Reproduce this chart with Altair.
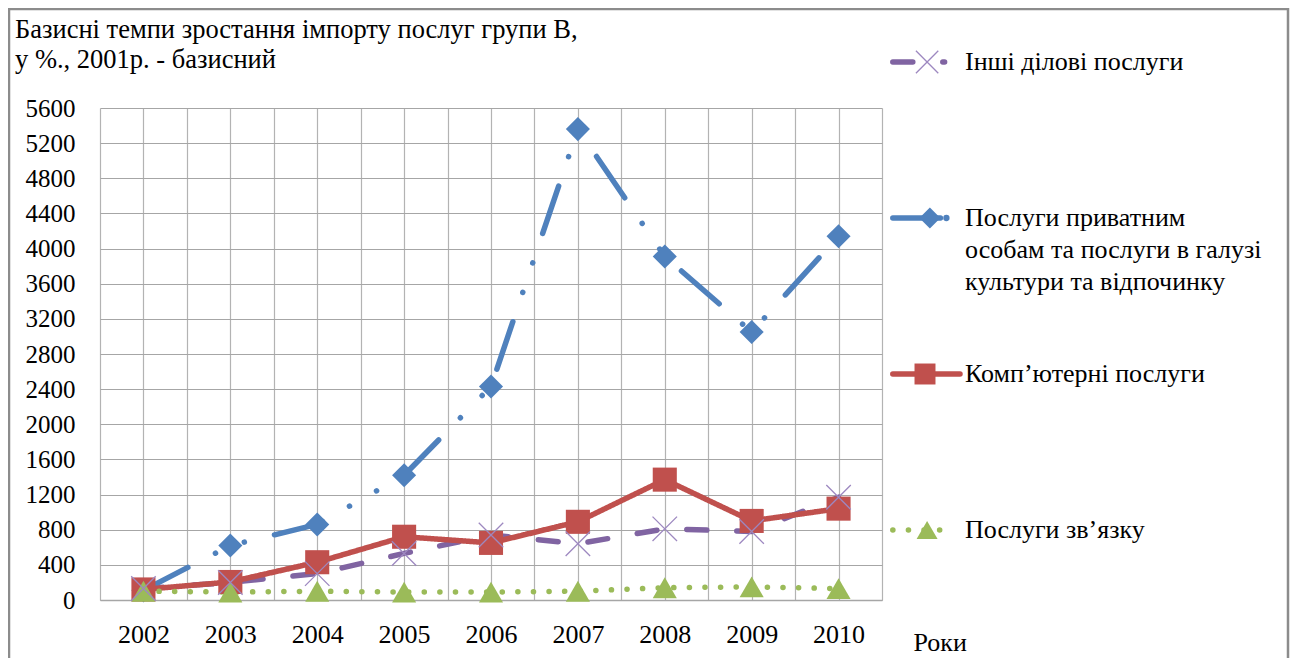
import altair as alt
import pandas as pd

years = [2002, 2003, 2004, 2005, 2006, 2007, 2008, 2009, 2010]
s_other = "Інші ділові послуги"
s_private = "Послуги приватним особам та послуги в галузі культури та відпочинку"
s_computer = "Комп’ютерні послуги"
s_comm = "Послуги зв’язку"

other_business = [130, 200, 300, 530, 740, 640, 810, 780, 1170]
private_culture = [110, 620, 860, 1420, 2430, 5360, 3910, 3050, 4140]
computer = [120, 205, 430, 720, 650, 890, 1370, 900, 1040]
communication = [100, 90, 100, 90, 90, 100, 140, 150, 130]

series_order = [s_other, s_private, s_computer, s_comm]
colors = ["#8064A2", "#4F81BD", "#C0504D", "#9BBB59"]
dashes = [[20, 30], [50, 31, 0.1, 31, 0.1, 31], [1, 0], [0.1, 15.5]]
shapes = ["M-1,-1L1,1M-1,1L1,-1", "diamond", "square", "triangle-up"]

legend_lines = [["Інші ділові послуги"],
                ["Послуги приватним", "особам та послуги в галузі", "культури та відпочинку"],
                ["Комп’ютерні послуги"],
                ["Послуги зв’язку"]]

y_ticks = [0, 400, 800, 1200, 1600, 2000, 2400, 2800, 3200, 3600, 4000, 4400, 4800, 5200, 5600]
x_grid = [2001.5 + 0.5 * i for i in range(19)]

FONT = "Liberation Serif"

rows = []
for name, vals in zip(series_order, [other_business, private_culture, computer, communication]):
    for yr, v in zip(years, vals):
        rows.append({"year": yr, "value": v, "series": name})
df = pd.DataFrame(rows)

color_scale = alt.Scale(domain=series_order, range=colors)
dash_scale = alt.Scale(domain=series_order, range=dashes)
shape_scale = alt.Scale(domain=series_order, range=shapes)

x_axis = alt.Axis(values=x_grid, labelExpr="datum.value % 1 == 0 ? datum.value : ''",
                  grid=True, gridColor="#b3b3b3", gridWidth=1.2, ticks=False,
                  domainColor="#a6a6a6", domainWidth=1.5, labelOverlap=False,
                  labelFont=FONT, labelFontSize=26, labelColor="#000",
                  labelPadding=21, labelBaseline="top", labelFlush=False,
                  title="Роки", titleFont=FONT, titleFontSize=26, titleFontWeight="normal",
                  titleColor="#000", titleAlign="left", titleAnchor="start",
                  titleX=813, titleY=50, titleBaseline="alphabetic")
y_axis = alt.Axis(values=y_ticks, tickCount=15, grid=True, gridColor="#a6a6a6", gridWidth=1.2,
                  ticks=False, domain=False, labelFont=FONT, labelFontSize=25,
                  format="d", labelOverlap=False,
                  labelColor="#000", labelPadding=25, labelFlush=False, title=None)


def xe():
    return alt.X("year:Q", scale=alt.Scale(domain=[2001.5, 2010.5], nice=False, zero=False), axis=x_axis)


def ye():
    return alt.Y("value:Q", scale=alt.Scale(domain=[0, 5600], nice=False), axis=y_axis)


base = alt.Chart(df)
lines = base.mark_line(strokeWidth=5.5, strokeCap="round", strokeJoin="round").encode(
    x=xe(), y=ye(),
    color=alt.Color("series:N", scale=color_scale, legend=None),
    strokeDash=alt.StrokeDash("series:N", scale=dash_scale, legend=None),
    detail="series:N",
)
filled_pts = base.transform_filter(alt.datum.series != s_other).mark_point(filled=True, opacity=1).encode(
    x=xe(), y=ye(),
    color=alt.Color("series:N", scale=color_scale, legend=None),
    shape=alt.Shape("series:N", scale=shape_scale, legend=None),
    size=alt.value(580),
)
x_pts = base.transform_filter(alt.datum.series == s_other).mark_point(
    filled=False, shape="M-1,-1L1,1M-1,1L1,-1", stroke="#9d88c0", strokeWidth=1.3, opacity=1, size=600
).encode(x=xe(), y=ye())

main = alt.layer(lines, filled_pts, x_pts)

# legend panel with its own scales
leg_rows = []
for i, name in enumerate(series_order):
    leg_rows.append({"series": name, "idx": i, "lend": [0.78, 0.72, 1.0, 0.93][i],
                     "mx": [0.53, 0.57, 0.5, 0.53][i]})
leg = pd.DataFrame(leg_rows)
leg_line_rows = []
for r in leg_rows:
    leg_line_rows.append({"series": r["series"], "idx": r["idx"], "lx": 0.04, "o": 0})
    leg_line_rows.append({"series": r["series"], "idx": r["idx"], "lx": r["lend"], "o": 1})
leg_lines_df = pd.DataFrame(leg_line_rows)

lx_scale = alt.Scale(domain=[0, 1], range=[790, 860])
ly_scale = alt.Scale(domain=[0, 3], range=[-46, 422])

leg_lines = alt.Chart(leg_lines_df).mark_line(strokeWidth=5.5, strokeCap="round").encode(
    x=alt.X("lx:Q", scale=lx_scale, axis=None),
    y=alt.Y("idx:Q", scale=ly_scale, axis=None),
    color=alt.Color("series:N", scale=color_scale, legend=None),
    strokeDash=alt.StrokeDash("series:N", scale=alt.Scale(domain=series_order,
                              range=[[20, 30], [1, 0], [1, 0], [0.1, 15.5]]), legend=None),
    detail="series:N", order="o:Q",
)
leg_filled = alt.Chart(leg).transform_filter(alt.datum.series != s_other).mark_point(filled=True, opacity=1).encode(
    x=alt.X("mx:Q", scale=lx_scale, axis=None),
    y=alt.Y("idx:Q", scale=ly_scale, axis=None),
    color=alt.Color("series:N", scale=color_scale, legend=None),
    shape=alt.Shape("series:N", scale=shape_scale, legend=None),
    size=alt.value(440),
)
leg_x = alt.Chart(leg).transform_filter(alt.datum.series == s_other).mark_point(
    filled=False, shape="M-1,-1L1,1M-1,1L1,-1", stroke="#9d88c0", strokeWidth=1.3, opacity=1, size=500
).encode(x=alt.X("mx:Q", scale=lx_scale, axis=None), y=alt.Y("idx:Q", scale=ly_scale, axis=None))
leg_dot = alt.Chart(leg).transform_filter(alt.datum.series == s_private).mark_point(
    filled=True, color="#4F81BD", opacity=1, size=40
).encode(x=alt.X("lend:Q", scale=lx_scale, axis=None), y=alt.Y("idx:Q", scale=ly_scale, axis=None),
         xOffset=alt.value(6))

leg_text_rows = []
for i, name in enumerate(series_order):
    leg_text_rows.append({"idx": i, "txt": legend_lines[i]})
leg_text = alt.Chart(pd.DataFrame(leg_text_rows)).mark_text(
    align="left", baseline="middle", font=FONT, fontSize=26, color="#000", lineHeight=32, dy=0
).encode(
    x=alt.value(865), y=alt.Y("idx:Q", scale=ly_scale, axis=None), text="txt",
)

legend = alt.layer(leg_lines, leg_filled, leg_x, leg_dot, leg_text)

title = alt.Chart(pd.DataFrame({"a": [0]})).mark_text(
    align="left", baseline="alphabetic", font=FONT, fontSize=26.5, color="#000", lineHeight=30
).encode(x=alt.value(-85), y=alt.value(-70),
         text=alt.value(["Базисні темпи зростання імпорту послуг групи В,",
                         "у %., 2001р. - базисний"]))

frame = alt.Chart(pd.DataFrame({"a": [0]})).mark_rect(
    filled=False, stroke="#8c8c8c", strokeWidth=2.5
).encode(x=alt.value(-91), x2=alt.value(1188), y=alt.value(-99), y2=alt.value(600))

chart = alt.layer(main, legend, title, frame).resolve_scale(
    x="independent", y="independent"
).properties(
    width=782, height=492,
    autosize=alt.AutoSizeParams(type="none"),
    padding={"left": 92, "top": 100, "right": 408, "bottom": 58},
    background="white",
).configure_view(stroke=None)

chart.save("out.html", embed_options={"renderer": "svg", "actions": False})
